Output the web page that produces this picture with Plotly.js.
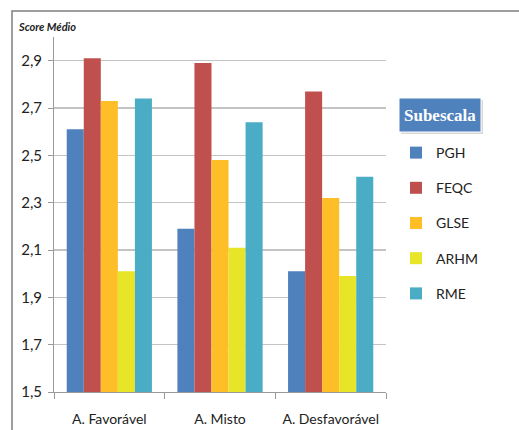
<!DOCTYPE html>
<html><head><meta charset="utf-8">
<script src="https://cdn.plot.ly/plotly-3.0.1.min.js"></script>
<style>html,body{margin:0;padding:0;background:#fff}#c{width:519px;height:430px}</style>
</head><body><div id="c"></div>
<script>
const categories = ["A. Favorável", "A. Misto", "A. Desfavorável"];
const seriesNames = ["PGH", "FEQC", "GLSE", "ARHM", "RME"];
const PGH  = [2.61, 2.19, 2.01];
const FEQC = [2.91, 2.89, 2.77];
const GLSE = [2.73, 2.48, 2.32];
const ARHM = [2.01, 2.11, 1.99];
const RME  = [2.74, 2.64, 2.41];
const yTicks = [1.5, 1.7, 1.9, 2.1, 2.3, 2.5, 2.7, 2.9];
const colors = ["#4F81BD", "#C0504D", "#FDBE27", "#E8E428", "#4BACC6"];
const values = [PGH, FEQC, GLSE, ARHM, RME];

const font = "Lato, 'Open Sans', sans-serif";
const traces = seriesNames.map((n, i) => ({
  type: "bar", name: n, x: categories, y: values[i],
  marker: {color: colors[i]}, legendgroup: n, hoverinfo: "skip"
}));

const L = 54, R = 386, T = 37, B = 392, W = 519, H = 430;
const px = x => (x - L) / (R - L);
const py = y => (B - y) / (B - T);

const layout = {
  width: W, height: H,
  margin: {l: L, r: W - R, t: T, b: H - B, pad: 0},
  paper_bgcolor: "#fff", plot_bgcolor: "#fff",
  separators: ",.",
  barmode: "group", bargap: 0.23, bargroupgap: 0,
  font: {family: font, color: "#222"},
  xaxis: {
    type: "category", showline: true, linecolor: "#9a9a9a", linewidth: 1,
    ticks: "outside", tickson: "boundaries", ticklen: 6, tickcolor: "#9a9a9a",
    ticklabelstandoff: 14,
    tickfont: {size: 14, family: font, color: "#222"}, showgrid: false, fixedrange: true
  },
  yaxis: {
    range: [1.5, 3.0], tickvals: yTicks,
    ticktext: yTicks.map(v => v.toFixed(1).replace(".", ",")),
    showline: true, linecolor: "#9a9a9a", linewidth: 1,
    ticks: "outside", ticklen: 5, tickcolor: "#9a9a9a", ticklabelstandoff: 3,
    showgrid: true, gridcolor: "#c4c4c4", gridwidth: 1.5, zeroline: false,
    tickfont: {size: 15, family: font, color: "#222"}, fixedrange: true
  },
  showlegend: true,
  legend: {
    x: px(396), y: py(137), xanchor: "left", yanchor: "top",
    font: {size: 14, family: font, color: "#222"},
    tracegroupgap: 14, itemwidth: 30, bgcolor: "rgba(0,0,0,0)"
  },
  shapes: [
    {type: "rect", xref: "paper", yref: "paper", x0: px(12), x1: px(530), y0: py(445), y1: py(11),
     line: {color: "#7f7f7f", width: 1.5}, fillcolor: "rgba(0,0,0,0)", layer: "below"},
    {type: "rect", xref: "paper", yref: "paper", x0: px(401), x1: px(483), y0: py(134), y1: py(100),
     line: {width: 0}, fillcolor: "#d9d9d9"},
    {type: "rect", xref: "paper", yref: "paper", x0: px(399), x1: px(481), y0: py(132), y1: py(98),
     line: {color: "#ffffff", width: 1}, fillcolor: "#4F81BD"}
  ],
  annotations: [
    {xref: "paper", yref: "paper", x: px(16), y: py(26), xanchor: "left", yanchor: "middle",
     text: "<b><i>Score Médio</i></b>", showarrow: false,
     font: {size: 11, family: font, color: "#222"}},
    {xref: "paper", yref: "paper", x: px(440), y: py(115), xanchor: "center", yanchor: "middle",
     text: "<b>Subescala</b>", showarrow: false,
     font: {size: 17, family: "'Liberation Serif', 'DejaVu Serif', serif", color: "#ffffff"}}
  ]
};
Plotly.newPlot("c", traces, layout, {displayModeBar: false, staticPlot: true});
</script></body></html>
